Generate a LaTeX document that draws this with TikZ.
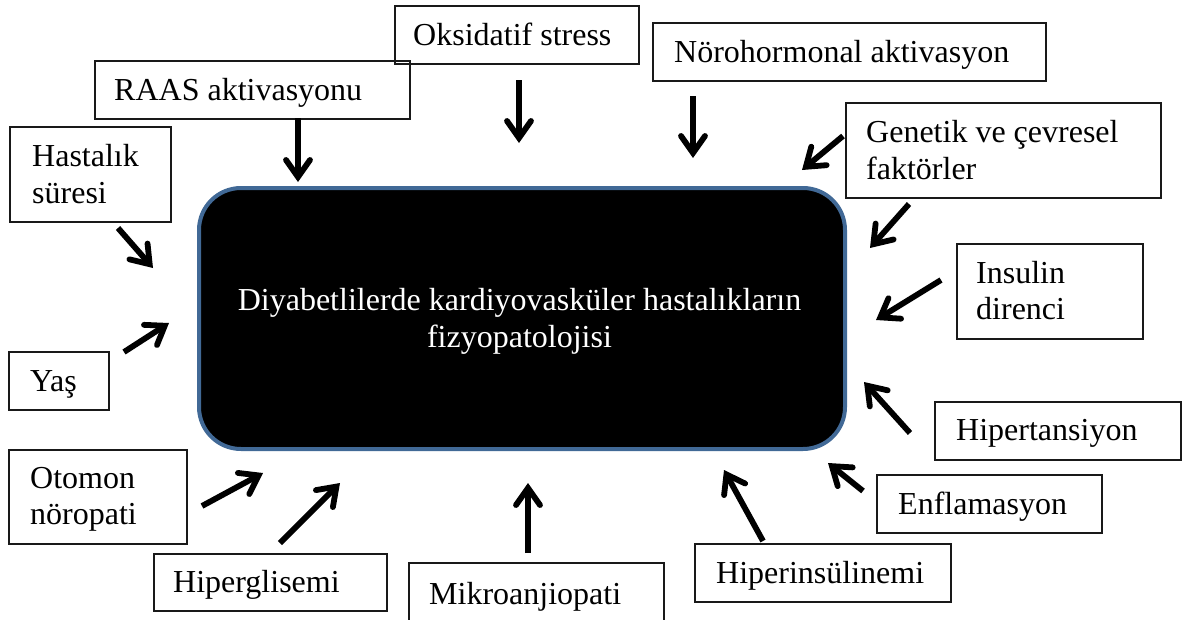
\documentclass[tikz,border=0pt]{standalone}
\usepackage{fontspec}
\setmainfont{Liberation Serif}
\usetikzlibrary{arrows.meta}
\definecolor{mainborder}{RGB}{65,105,150}
\begin{document}
\begin{tikzpicture}[x=1pt,y=-1pt,
  lbl/.style={inner sep=0pt, anchor=base west, font=\fontsize{32}{37}\selectfont},
  mainlbl/.style={inner sep=0pt, anchor=base, text=white, font=\fontsize{32}{37}\selectfont},
  fbox/.style={draw=black!90, line width=1.8pt, anchor=north west, inner sep=0pt},
  arr/.style={line width=5.8pt, -{Straight Barb[length=17pt,width=24pt,line cap=round]}},
]
\clip (0,0) rectangle (1186,619);
\useasboundingbox (0,0) rectangle (1186,619);

% main box
\node[draw=mainborder, line width=4pt, fill=black, rounded corners=42pt,
      minimum width=646pt, minimum height=261pt, anchor=north west, inner sep=0pt] (main) at (197,186) {};
\node[mainlbl] (main1) at (519.5,310) {Diyabetlilerde kardiyovasküler hastalıkların};
\node[mainlbl] (main2) at (519.5,347) {fizyopatolojisi};

% factor boxes
\node[fbox, minimum width=244pt, minimum height=58pt] (ox) at (394,5) {};
\node[fbox, minimum width=315pt, minimum height=58pt] (raas) at (94,60) {};
\node[fbox, minimum width=161pt, minimum height=95pt] (hast) at (9,126) {};
\node[fbox, minimum width=393pt, minimum height=58pt] (noro) at (652,22) {};
\node[fbox, minimum width=315pt, minimum height=95pt] (gen) at (845,102) {};
\node[fbox, minimum width=186pt, minimum height=95pt] (ins) at (956,243) {};
\node[fbox, minimum width=100pt, minimum height=58pt] (yas) at (8,351) {};
\node[fbox, minimum width=178pt, minimum height=94pt] (oto) at (8,449) {};
\node[fbox, minimum width=233pt, minimum height=57pt] (hipg) at (153,553) {};
\node[fbox, minimum width=255pt, minimum height=90pt] (mik) at (408,562) {};
\node[fbox, minimum width=256pt, minimum height=58pt] (hipi) at (694,543) {};
\node[fbox, minimum width=225pt, minimum height=58pt] (enf) at (876,474) {};
\node[fbox, minimum width=246pt, minimum height=58pt] (hipt) at (934,401) {};

% labels
\node[lbl] (oxt) at (413,45) {Oksidatif stress};
\node[lbl] (raast) at (114,100) {RAAS aktivasyonu};
\node[lbl] (hast1) at (32,166) {Hastalık};
\node[lbl] (hast2) at (32,203) {süresi};
\node[lbl] (norot) at (674,62) {Nörohormonal aktivasyon};
\node[lbl] (gen1) at (866,142) {Genetik ve çevresel};
\node[lbl] (gen2) at (866,179) {faktörler};
\node[lbl] (ins1) at (976,283) {Insulin};
\node[lbl] (ins2) at (976,319) {direnci};
\node[lbl] (yast) at (30,391) {Yaş};
\node[lbl] (oto1) at (30,488) {Otomon};
\node[lbl] (oto2) at (30,524) {nöropati};
\node[lbl] (hipgt) at (173,592) {Hiperglisemi};
\node[lbl] (mikt) at (429,604) {Mikroanjiopati};
\node[lbl] (hipit) at (716,583) {Hiperinsülinemi};
\node[lbl] (enft) at (898,514) {Enflamasyon};
\node[lbl] (hiptt) at (956,440) {Hipertansiyon};

% arrow end points
\coordinate (a1s) at (118,228); \coordinate (a1e) at (153,268);
\coordinate (a2s) at (298,118); \coordinate (a2e) at (298,182);
\coordinate (a3s) at (519,80);  \coordinate (a3e) at (519,143);
\coordinate (a4s) at (693,96);  \coordinate (a4e) at (693,158);
\coordinate (a5s) at (843,136); \coordinate (a5e) at (802,170);
\coordinate (a6s) at (909,204); \coordinate (a6e) at (870,248);
\coordinate (a7s) at (941,280); \coordinate (a7e) at (876,320);
\coordinate (a8s) at (910,433); \coordinate (a8e) at (864,382);
\coordinate (a9s) at (863,491); \coordinate (a9e) at (828,463);
\coordinate (a10s) at (763,541); \coordinate (a10e) at (724,470);
\coordinate (a11s) at (528,553); \coordinate (a11e) at (528,483);
\coordinate (a12s) at (280,543); \coordinate (a12e) at (340,483);
\coordinate (a13s) at (202,506); \coordinate (a13e) at (263,473);
\coordinate (a14s) at (124,352); \coordinate (a14e) at (169,323);

\foreach \i in {1,...,14} {\draw[arr] (a\i s) -- (a\i e);}
\end{tikzpicture}
\end{document}
